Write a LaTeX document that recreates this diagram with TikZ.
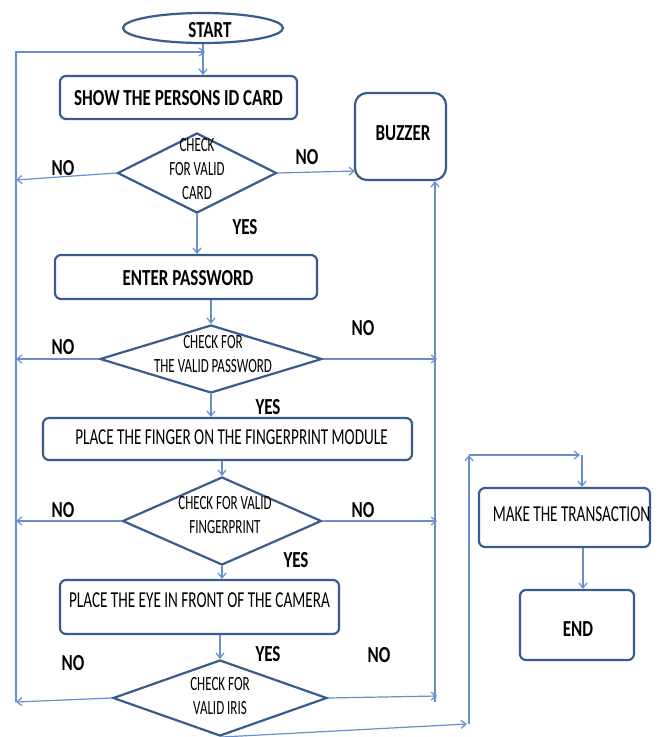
\documentclass[tikz,border=0pt]{standalone}
\usepackage{fontspec}
\setmainfont{Carlito}
\usepackage{graphicx}
\usetikzlibrary{shapes.geometric,arrows.meta}
\definecolor{nodeblue}{HTML}{385D8A}
\definecolor{linkblue}{HTML}{6590CB}
\newcommand{\txb}[1]{\scalebox{1}[1.35]{\fontsize{17}{20}\selectfont\bfseries #1}}
\newcommand{\txr}[1]{\scalebox{1}[1.5]{\fontsize{15.2}{18}\selectfont #1}}
\newcommand{\txd}[1]{\scalebox{1}[1.55]{\fontsize{13}{15.5}\selectfont\begin{tabular}[t]{@{}c@{}}#1\end{tabular}}}
\newcommand{\tpos}[3]{\makebox[0pt]{\kern#1pt\kern#1pt\raisebox{#2pt}[0pt][0pt]{#3}}}
\tikzset{
  box/.style={draw=nodeblue, line width=2.2pt, rounded corners=6pt, inner sep=0pt, fill=white},
  dia/.style={diamond, draw=nodeblue, line width=2.2pt, inner sep=0pt, fill=white},
  lbl/.style={inner sep=0pt},
  link/.style={draw=linkblue, line width=1.2pt},
  arr/.style={link, -{Straight Barb[length=5pt,width=8pt]}}
}
\begin{document}
\begin{tikzpicture}[x=1pt,y=-1pt]
\useasboundingbox (0,0) rectangle (662,737);
\fill[white] (0,0) rectangle (662,737);

% nodes
\node[ellipse, draw=nodeblue, line width=2.2pt, minimum width=160pt, minimum height=30pt, inner sep=0pt] (start) at (203,28) {\tpos{7}{-9}{\txb{START}}};
\node[box, minimum width=237pt, minimum height=43pt] (b1) at (178.5,97.5) {\tpos{0}{-8}{\txb{SHOW THE PERSONS ID CARD}}};
\node[dia, minimum width=159pt, minimum height=80pt] (d1) at (197,173) {\tpos{0}{21.6}{\txd{CHECK\\FOR VALID\\CARD}}};
\node[box, rounded corners=12pt, minimum width=91pt, minimum height=87pt] (bz) at (400.5,136.5) {\tpos{2.5}{-3.7}{\txb{BUZZER}}};
\node[box, minimum width=262pt, minimum height=44pt] (b2) at (186,277) {\tpos{2}{-8}{\txb{ENTER PASSWORD}}};
\node[dia, minimum width=222pt, minimum height=68pt] (d2) at (211,359) {\tpos{2}{10.6}{\txd{CHECK FOR\\THE VALID PASSWORD}}};
\node[box, minimum width=369pt, minimum height=42pt] (b3) at (227.5,439) {\tpos{4}{-5}{\txr{PLACE THE FINGER ON THE FINGERPRINT MODULE}}};
\node[dia, minimum width=199pt, minimum height=88pt] (d3) at (222,521) {\tpos{3}{11.6}{\txd{CHECK FOR VALID\\FINGERPRINT}}};
\node[box, minimum width=279pt, minimum height=54pt] (b4) at (199.5,607) {\tpos{0}{-0.2}{\txr{PLACE THE EYE IN FRONT OF THE CAMERA}}};
\node[dia, minimum width=214pt, minimum height=76pt] (d4) at (220,698) {\tpos{0}{7.6}{\txd{CHECK FOR\\VALID IRIS}}};
\node[box, minimum width=171pt, minimum height=59pt] (b5) at (564.5,517.5) {\tpos{7}{-3.7}{\txr{MAKE THE TRANSACTION}}};
\node[box, minimum width=114pt, minimum height=70pt] (b6) at (577,625) {\tpos{1}{-11}{\txb{END}}};

% labels
\node[lbl] (no1l) at (63,168) {\tpos{0}{-7.2}{\txb{NO}}};
\node[lbl] (no1r) at (307,157) {\tpos{0}{-7.2}{\txb{NO}}};
\node[lbl] (no2l) at (63,347) {\tpos{0}{-7.2}{\txb{NO}}};
\node[lbl] (no2r) at (363,328) {\tpos{0}{-7.2}{\txb{NO}}};
\node[lbl] (no3l) at (63,510) {\tpos{0}{-7.2}{\txb{NO}}};
\node[lbl] (no3r) at (363,510) {\tpos{0}{-7.2}{\txb{NO}}};
\node[lbl] (no4l) at (73,663) {\tpos{0}{-7.2}{\txb{NO}}};
\node[lbl] (no4r) at (379,655) {\tpos{0}{-7.2}{\txb{NO}}};
\node[lbl] (yes1) at (245,227) {\tpos{0}{-7.2}{\txb{YES}}};
\node[lbl] (yes2) at (268,407) {\tpos{0}{-7.2}{\txb{YES}}};
\node[lbl] (yes3) at (296,560) {\tpos{0}{-7.2}{\txb{YES}}};
\node[lbl] (yes4) at (268,654) {\tpos{0}{-7.2}{\txb{YES}}};

% coordinates
\coordinate (lb) at (16,702);
\coordinate (lt) at (16,52);
\coordinate (ltr) at (205,52);
\coordinate (n1) at (16,180);
\coordinate (n2) at (16,359);
\coordinate (n3) at (16,521);
\coordinate (bzin) at (355,171);
\coordinate (rb) at (435,702);
\coordinate (r2) at (437,359);
\coordinate (r3) at (437,521);
\coordinate (r4) at (437,696);
\coordinate (c1) at (467,724);
\coordinate (c1b) at (469,724);
\coordinate (c2) at (469,455);
\coordinate (c3) at (580,455);
\coordinate (c4) at (582,455);

% connectors
\draw[arr] (start.south) -- (start.south |- b1.north);
\draw[arr] (lb) -- (lt) -- (ltr);
\draw[arr] (d1.west) -- (n1);
\draw[arr] (d1.east) -- (bzin);
\draw[arr] (rb) -- (rb |- bz.south);
\draw[arr] (d1.south) -- (d1.south |- b2.north);
\draw[arr] (d2.north |- b2.south) -- (d2.north);
\draw[arr] (d2.west) -- (n2);
\draw[arr] (d2.east) -- (r2);
\draw[arr] (d2.south) -- (d2.south |- b3.north);
\draw[arr] (d3.north |- b3.south) -- (d3.north);
\draw[arr] (d3.west) -- (n3);
\draw[arr] (d3.east) -- (r3);
\draw[arr] (d3.south) -- (d3.south |- b4.north);
\draw[arr] (d4.north |- b4.south) -- (d4.north);
\draw[arr] (d4.west) -- (lb);
\draw[arr] (d4.east) -- (r4);
\draw[arr] (d4.south) -- (c1);
\draw[arr] (c1b) -- (c2);
\draw[arr] (c2) -- (c3);
\draw[arr] (c4) -- (c4 |- b5.north);
\draw[arr] ([xshift=18.5pt]b5.south) -- ([xshift=18.5pt]b5.south |- b6.north);
\end{tikzpicture}
\end{document}
